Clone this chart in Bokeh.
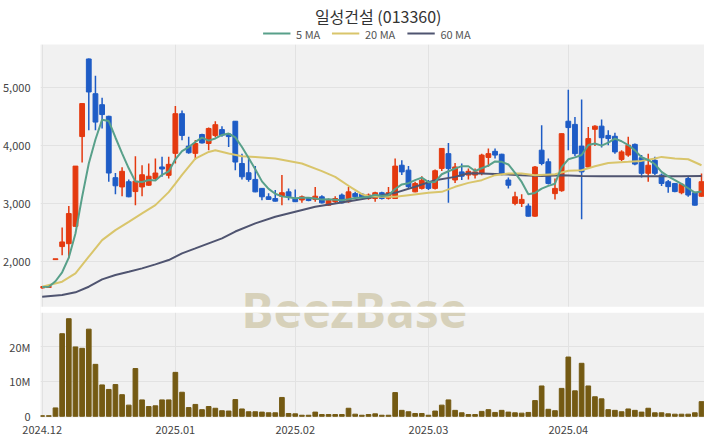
import numpy as np
import pandas as pd
from bokeh.plotting import figure
from bokeh.layouts import column
from bokeh.models import Range1d, FixedTicker, BoxAnnotation, CustomJSTickFormatter
from bokeh.core.properties import value
from bokeh.embed import file_html
from bokeh.resources import INLINE

title_text = "일성건설 (013360)"
legend_labels = ["5 MA", "20 MA", "60 MA"]
tick_pos = [0, 20, 38, 58, 79]
tick_labels = ["2024.12", "2025.01", "2025.02", "2025.03", "2025.04"]
price_ticks = [2000, 3000, 4000, 5000]
vol_ticks = [0, 10, 20]

opens = [1535, 1545, 2025, 2250, 2300, 2600, 4150, 5490, 4890, 4700,
         4500, 3440, 3280, 3370, 3200, 3280, 3310, 3425, 3625, 3480,
         3860, 4545, 3985, 3860, 4185, 4030, 4170, 4270, 4195, 4415,
         3685, 3525, 3410, 3255, 3110, 3080, 3120, 3195, 3080, 3055,
         3080, 3065, 3110, 2965, 3025, 3140, 3025, 3165, 3155, 3080,
         3080, 3180, 3085, 3080, 3655, 3570, 3195, 3255, 3370, 3255,
         3600, 3855, 3400, 3540, 3485, 3485, 3515, 3790, 3895, 3845,
         3400, 2995, 2995, 2950, 2775, 3915, 3715, 3165, 3215, 4415,
         4360, 3985, 3625, 4275, 4330, 4170, 4155, 3755, 3830, 4015,
         3785, 3515, 3740, 3485, 3370, 3340, 3180, 3425, 3180, 3120]
highs = [1565, 1565, 2030, 2580, 2950, 3640, 4720, 5500, 5200, 4820,
         4510, 3520, 3620, 3410, 3810, 3655, 3685, 3770, 3800, 3800,
         4680, 4600, 4145, 4090, 4200, 4305, 4415, 4330, 4210, 4420,
         3855, 3770, 3640, 3260, 3170, 3225, 3485, 3255, 3235, 3130,
         3090, 3280, 3135, 3080, 3120, 3165, 3280, 3195, 3170, 3165,
         3195, 3195, 3280, 3770, 3740, 3640, 3370, 3465, 3400, 3580,
         3950, 4040, 3695, 3685, 3600, 3600, 3855, 3945, 3945, 3855,
         3445, 3195, 3155, 2995, 3640, 4345, 3770, 3425, 4205, 4960,
         4490, 4790, 4315, 4345, 4445, 4260, 4215, 3915, 4145, 4030,
         3830, 3855, 3800, 3510, 3400, 3350, 3350, 3455, 3195, 3510]
lows = [1525, 1535, 2025, 2100, 2050, 2590, 3700, 4260, 4260, 4290,
        3370, 3155, 3120, 3100, 2965, 3120, 3300, 3400, 3455, 3425,
        3685, 4085, 3855, 3750, 4030, 3915, 4140, 4145, 3970, 3570,
        3410, 3370, 3190, 3050, 3060, 3030, 2965, 3050, 3020, 3005,
        3035, 3025, 2995, 2955, 3000, 2995, 3005, 3080, 3090, 3060,
        3025, 3065, 3065, 3075, 3485, 3255, 3190, 3235, 3225, 3235,
        3555, 3005, 3350, 3400, 3410, 3425, 3480, 3630, 3770, 3480,
        3255, 2965, 2935, 2770, 2765, 3655, 3320, 3065, 3195, 3915,
        3810, 2720, 3600, 3985, 3960, 4000, 3855, 3730, 3800, 3655,
        3445, 3370, 3485, 3295, 3180, 3190, 3155, 3110, 2960, 3110]
closes = [1560, 1560, 2030, 2330, 2820, 3640, 4720, 4920, 4400, 4530,
          3520, 3300, 3550, 3110, 3380, 3490, 3465, 3520, 3590, 3670,
          4545, 4170, 3870, 4030, 4040, 4290, 4355, 4175, 4150, 3710,
          3455, 3410, 3195, 3110, 3065, 3035, 3180, 3110, 3025, 3110,
          3045, 3120, 3005, 3050, 3080, 3005, 3195, 3110, 3100, 3140,
          3180, 3080, 3180, 3640, 3540, 3285, 3340, 3395, 3255, 3560,
          3945, 3600, 3625, 3465, 3550, 3540, 3830, 3855, 3830, 3515,
          3310, 3110, 3065, 2775, 3625, 3685, 3340, 3255, 4200, 4305,
          3855, 3540, 4115, 4330, 4130, 4115, 3885, 3885, 4000, 3675,
          3515, 3655, 3515, 3340, 3285, 3200, 3325, 3140, 2965, 3370]
volumes_m = [0.15, 0.15, 2.4, 23.7, 28.0, 19.9, 19.5, 25.0, 14.9, 9.0,
             7.7, 9.1, 6.2, 3.2, 13.7, 4.7, 2.8, 3.0, 4.7, 4.7,
             12.6, 6.9, 2.5, 3.4, 1.9, 2.8, 2.3, 1.6, 1.5, 4.8,
             2.1, 1.3, 1.3, 1.2, 1.0, 1.0, 5.4, 0.8, 0.7, 0.3,
             0.3, 1.2, 0.5, 0.5, 0.5, 0.5, 2.3, 0.6, 0.3, 0.5,
             0.7, 0.3, 0.3, 6.8, 1.7, 1.3, 0.8, 0.8, 0.3, 1.5,
             3.2, 4.7, 1.7, 1.0, 0.5, 0.5, 1.4, 1.9, 1.1, 1.7,
             1.2, 1.0, 0.9, 1.1, 4.5, 8.7, 2.0, 1.6, 8.0, 17.0,
             7.3, 15.2, 8.7, 5.6, 5.0, 1.9, 1.7, 1.3, 2.1, 1.7,
             1.2, 2.3, 1.0, 1.0, 0.7, 0.6, 0.6, 0.6, 1.0, 4.2]
pre_closes = [1545, 1550, 1555, 1550]

ma20_x = [0, 3, 5, 7, 9, 11, 13, 15, 17, 19, 20, 21, 23, 25, 26, 28, 30, 32, 35, 39,
          42, 44, 46, 48, 49, 51, 53, 55, 58, 60, 62, 64, 66, 68, 70, 72, 74, 77, 79,
          81, 83, 85, 88, 90, 92, 93, 95, 97, 99]
ma20_y = [1557, 1644, 1787, 2075, 2362, 2535, 2678, 2822, 2966, 3190, 3339, 3490, 3770, 3885,
          3914, 3856, 3810, 3799, 3770, 3684, 3552, 3454, 3300, 3155, 3121, 3109, 3109, 3138,
          3178, 3195, 3282, 3350, 3397, 3483, 3512, 3512, 3483, 3500, 3558, 3569, 3638, 3695,
          3713, 3730, 3770, 3799, 3770, 3758, 3655]
ma60_x = [0, 3, 5, 7, 9, 11, 13, 15, 17, 19, 21, 23, 25, 27, 29, 32, 35, 38, 41, 44, 47,
          50, 53, 56, 59, 62, 64, 66, 69, 72, 75, 78, 81, 84, 87, 90, 93, 96, 99]
ma60_y = [1385, 1414, 1460, 1557, 1684, 1759, 1816, 1874, 1943, 2017, 2132, 2218, 2305,
          2391, 2510, 2650, 2765, 2851, 2937, 2994, 3052, 3109, 3178, 3282, 3397, 3454,
          3515, 3512, 3500, 3483, 3471, 3483, 3471, 3466, 3466, 3466, 3466, 3466, 3471]

RED = "#e4390f"
BLUE = "#1e5cc6"
C5 = "#58a08a"
C20 = "#d9c56b"
C60 = "#4f5470"
VOL = "#745a13"
BG = "#f1f1f1"
GRID = "#e2e2e2"
FONT = "Noto Sans CJK KR"
WM = "#d7d1ba"

n = len(closes)
idx = np.arange(n)
ma5 = pd.Series(pre_closes + closes).rolling(5).mean().to_numpy()[len(pre_closes):]
colors = [RED if c >= o else BLUE for o, c in zip(opens, closes)]
body_top = [max(o, c) for o, c in zip(opens, closes)]
body_bot = [min(o, c) for o, c in zip(opens, closes)]
body_top = [t if t - b >= 14 else b + 14 for t, b in zip(body_top, body_bot)]

# ---------------- header (title + legend), pixel-like coordinates ----------------
W = 704
h = figure(width=W, height=44, x_range=Range1d(0, W), y_range=Range1d(44, 0),
           output_backend="svg", toolbar_location=None,
           min_border_left=0, min_border_right=0, min_border_top=0, min_border_bottom=0,
           background_fill_color="white", border_fill_color="white", outline_line_color=None)
h.axis.visible = False
h.grid.visible = False
h.text(x=[358], y=[15], text=[title_text], text_font=value(FONT), text_font_size="16px",
       text_color="#333333", text_align="center", text_baseline="middle")
sw_x0 = [236, 309, 389]
sw_len = 29
h.segment(x0=sw_x0, y0=[33] * 3, x1=[s + sw_len for s in sw_x0], y1=[33] * 3,
          color=[C5, C20, C60], line_width=2)
h.text(x=[s + sw_len + 6 for s in sw_x0], y=[33] * 3, text=legend_labels,
       text_font=value(FONT), text_font_size="11px", text_color="#555555",
       text_align="left", text_baseline="middle")

# ---------------- main figure: price panel + gap + volume panel ----------------
H = 392
AX = 18                      # bottom axis panel
F = H - AX                   # frame height
PRICE_PX, GAP_PX = 263, 6
VOL_PX = F - PRICE_PX - GAP_PX
p_lo, p_hi = 1210, 5740
v_lo, v_hi = -0.35, 29.7
ppx = (p_hi - p_lo) / PRICE_PX
vpx = (v_hi - v_lo) / VOL_PX
y_start = p_lo - (GAP_PX + VOL_PX) * ppx
v_end = v_hi + (GAP_PX + PRICE_PX) * vpx

def vol_to_y(v):
    return y_start + (v - v_lo) * (p_hi - y_start) / (v_end - v_lo)

x_rng = Range1d(-0.25, 99.45)
p = figure(width=W, height=H, x_range=x_rng, y_range=Range1d(y_start, p_hi),
           output_backend="svg", toolbar_location=None,
           min_border_left=33, min_border_right=0, min_border_bottom=AX, min_border_top=0,
           background_fill_color=BG, border_fill_color="white", outline_line_color=None)
p.extra_y_ranges = {"vol": Range1d(v_lo, v_end)}

# watermark
p.text(x=[46.9], y=[p_lo - GAP_PX / 2 * ppx], text=["BeezBase"], text_font=value("Noto Sans"),
       text_font_style="bold", text_font_size="48px", text_color=WM,
       text_align="center", text_baseline="middle")

# candles
p.segment(x0=idx, y0=lows, x1=idx, y1=highs, color=colors, line_width=1.5)
p.vbar(x=idx, top=body_top, bottom=body_bot, width=0.72, fill_color=colors, line_color=colors)
p.line(ma60_x, ma60_y, line_width=2, color=C60)
p.line(ma20_x, ma20_y, line_width=2, color=C20)
p.line(idx, ma5, line_width=2, color=C5)

# volume
p.vbar(x=idx, top=volumes_m, bottom=0, width=0.7, color=VOL, y_range_name="vol")

# white gap between panels
p.add_layout(BoxAnnotation(bottom=p_lo - GAP_PX * ppx, top=p_lo, fill_color="white",
                           fill_alpha=1.0, line_color=None))

yt = price_ticks + [vol_to_y(v) for v in vol_ticks]
p.yaxis.ticker = FixedTicker(ticks=yt)
p.yaxis.formatter = CustomJSTickFormatter(
    args=dict(ys=y_start, ye=p_hi, vs=v_lo, ve=v_end, cut=p_lo),
    code="""
    if (tick >= cut) { return String(Math.round(tick)).replace(/\\B(?=(\\d{3})+(?!\\d))/g, ","); }
    const v = Math.round(vs + (tick - ys) * (ve - vs) / (ye - ys));
    return v === 0 ? "0" : v + "M";
    """)
p.xaxis.ticker = FixedTicker(ticks=tick_pos)
p.xaxis.major_label_overrides = {t: l for t, l in zip(tick_pos, tick_labels)}
p.xgrid.grid_line_color = GRID
p.ygrid.grid_line_color = GRID

for ax in p.xaxis + p.yaxis:
    ax.axis_line_color = None
    ax.major_tick_line_color = None
    ax.minor_tick_line_color = None
    ax.major_label_text_font = FONT
    ax.major_label_text_font_size = "11px"
    ax.major_label_text_color = "#444444"
p.yaxis.major_label_standoff = 4
p.xaxis.major_label_standoff = 2

layout = column(h, p)
open("out.html", "w").write(file_html(layout, INLINE))
